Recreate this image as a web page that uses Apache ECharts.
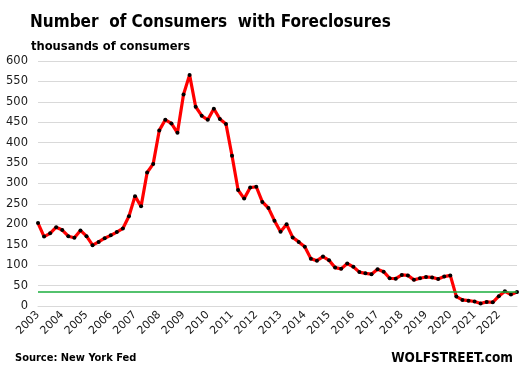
<!DOCTYPE html>
<html>
<head>
<meta charset="utf-8">
<script src="https://cdn.jsdelivr.net/npm/echarts@6/dist/echarts.min.js"></script>
<style>
html,body{margin:0;padding:0;background:#fff;}
#chart{width:523px;height:374px;}
</style>
</head>
<body>
<div id="chart"></div>
<script>
// Years shown as x-axis tick labels (one tick label per year, at Q1)
const years = ['2003','2004','2005','2006','2007','2008','2009','2010','2011','2012',
               '2013','2014','2015','2016','2017','2018','2019','2020','2021','2022'];
const quarters = ['Q1','Q2','Q3','Q4'];
// Quarterly number of consumers with foreclosures (thousands)
const values2003to2007 = [203,170,178,193, 186,171,167,185, 171,149,157,166, 173,181,190,220, 269,244,327,348];
const values2008to2012 = [430,456,447,424, 518,566,488,466, 456,483,458,446, 368,284,263,290, 292,255,240,209];
const values2013to2017 = [182,200,168,157, 145,116,111,121, 112,94,91,104, 96,83,80,78, 90,84,68,67];
const values2018to2022 = [76,75,64,68, 71,70,66,72, 75,23,15,13, 11,6,10,9, 24,36,28,34];
const yTicks = [0,50,100,150,200,250,300,350,400,450,500,550,600];

const categories = [];
years.forEach(y => quarters.forEach(q => categories.push(y + ' ' + q)));
const values = values2003to2007.concat(values2008to2012, values2013to2017, values2018to2022);
const latest = values[values.length - 1];

const chart = echarts.init(document.getElementById('chart'), null, {renderer:'canvas'});
const fontFam = '"DejaVu Sans Condensed", "DejaVu Sans", Verdana, sans-serif';
const axisFam = '"DejaVu Sans", Verdana, sans-serif';
chart.setOption({
  animation: false,
  backgroundColor: '#ffffff',
  title: [
    {text: 'Number  of Consumers  with Foreclosures', left: 25, top: 9,
     textStyle: {fontFamily: fontFam, fontWeight: 'bold', fontSize: 17, color: '#000'}},
    {text: 'thousands of consumers', left: 26, top: 35,
     textStyle: {fontFamily: fontFam, fontWeight: 'bold', fontSize: 12.8, color: '#000'}}
  ],
  graphic: [
    {type: 'text', left: 15, top: 353,
     style: {text: 'Source: New York Fed', font: 'bold 11px ' + fontFam, fill: '#000'}},
    {type: 'text', right: 10, top: 351,
     style: {text: 'WOLFSTREET.com', font: 'bold 13.5px ' + fontFam, fill: '#000'}}
  ],
  grid: {left: 38, right: 6, top: 61, bottom: 68, containLabel: false},
  xAxis: {
    type: 'category',
    data: categories,
    boundaryGap: false,
    axisLine: {show: true, lineStyle: {color: '#d9d9d9', width: 1}},
    axisTick: {show: false},
    axisLabel: {
      interval: 3, rotate: 45, margin: 7,
      fontFamily: axisFam, fontSize: 11, color: '#1a1a1a',
      formatter: v => v.split(' ')[0]
    },
    splitLine: {show: false}
  },
  yAxis: {
    type: 'value',
    min: yTicks[0], max: yTicks[yTicks.length - 1], interval: 50,
    axisLine: {show: false},
    axisTick: {show: false},
    axisLabel: {fontFamily: axisFam, fontSize: 11.5, color: '#1a1a1a', margin: 10},
    splitLine: {lineStyle: {color: '#d9d9d9', width: 1}}
  },
  series: [{
    type: 'line',
    data: values,
    lineStyle: {color: '#ff0000', width: 3.2},
    symbol: 'circle',
    symbolSize: 4,
    showSymbol: true,
    showAllSymbol: true,
    itemStyle: {color: '#000000', borderWidth: 0},
    z: 3,
    markLine: {
      silent: true,
      symbol: 'none',
      label: {show: false},
      lineStyle: {color: '#1aae3c', width: 1.5, type: 'solid'},
      data: [{yAxis: latest}]
    }
  }]
});
</script>
</body>
</html>
